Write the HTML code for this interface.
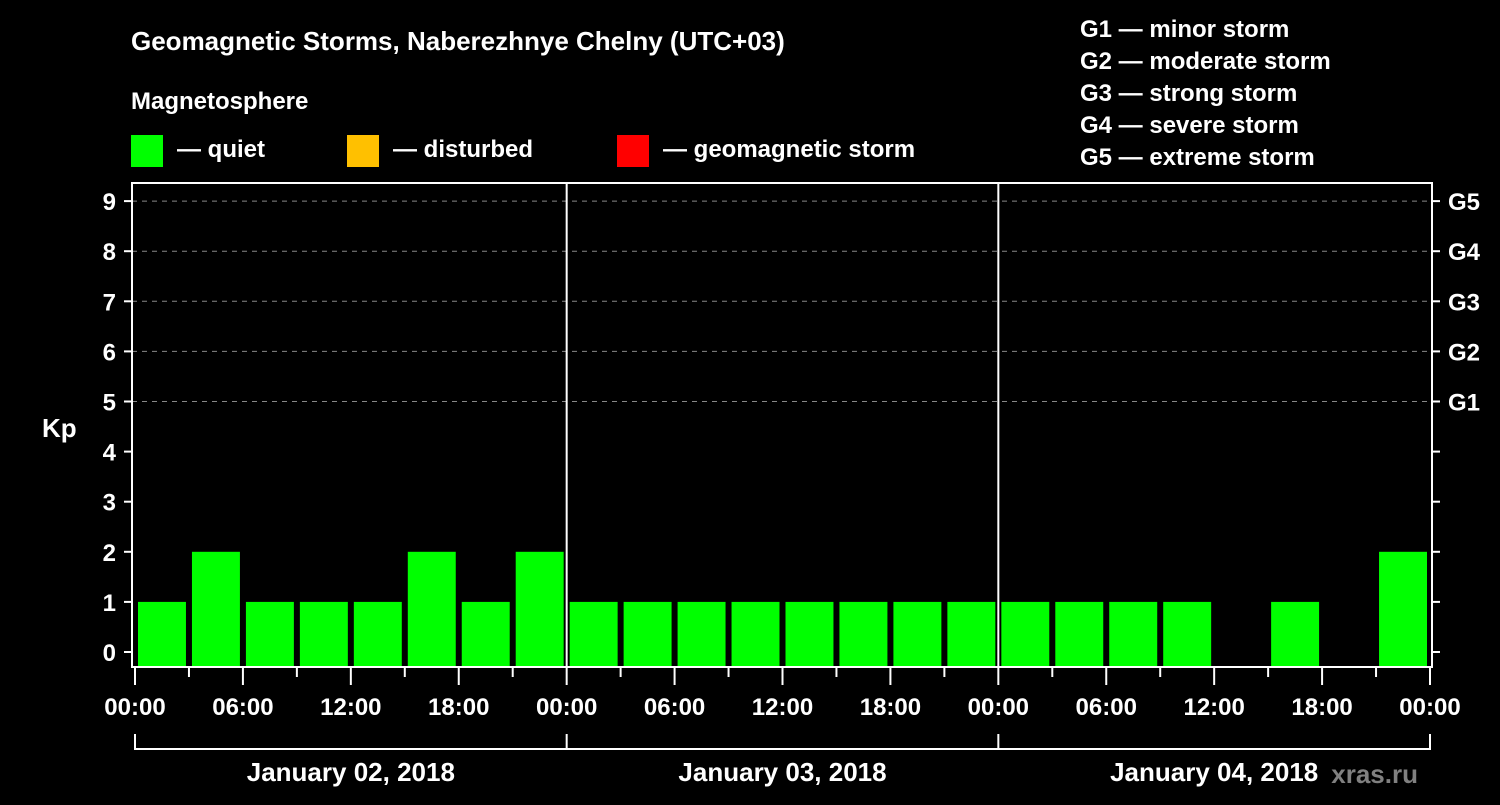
<!DOCTYPE html>
<html><head><meta charset="utf-8"><style>
body{margin:0;background:#000;width:1500px;height:800px;overflow:hidden;font-family:"Liberation Sans",sans-serif}
svg text{font-family:"Liberation Sans",sans-serif;font-weight:bold;fill:#fff}
</style></head><body>
<svg id="c" width="1500" height="800">
<text x="131" y="50" font-size="26">Geomagnetic Storms, Naberezhnye Chelny (UTC+03)</text>
<text x="131" y="109" font-size="24">Magnetosphere</text>
<g><rect x="131" y="135" width="32" height="32" fill="#00ff00"/><text x="177" y="157" font-size="24">— quiet</text></g>
<g><rect x="347" y="135" width="32" height="32" fill="#ffc000"/><text x="393" y="157" font-size="24">— disturbed</text></g>
<g><rect x="617" y="135" width="32" height="32" fill="#ff0000"/><text x="663" y="157" font-size="24">— geomagnetic storm</text></g>
<g font-size="24">
<text x="1080" y="37">G1 — minor storm</text><text x="1080" y="69">G2 — moderate storm</text><text x="1080" y="101">G3 — strong storm</text><text x="1080" y="133">G4 — severe storm</text><text x="1080" y="165">G5 — extreme storm</text></g>
<text x="42" y="437" font-size="26">Kp</text>
<text x="1418" y="783" font-size="26" text-anchor="end" style="fill:#808080">xras.ru</text>
<g id="g"></g>
</svg>
<script>
const values=[1,2,1,1,1,2,1,2, 1,1,1,1,1,1,1,1, 1,1,1,1,null,1,null,2];
const yTicks=[0,1,2,3,4,5,6,7,8,9];
const gLabels=["G1","G2","G3","G4","G5"];
const gLevels=[5,6,7,8,9];
const xLabels=["00:00","06:00","12:00","18:00","00:00","06:00","12:00","18:00","00:00","06:00","12:00","18:00","00:00"];
const days=["January 02, 2018","January 03, 2018","January 04, 2018"];
const NS="http://www.w3.org/2000/svg",g=document.getElementById('g');
const X0=135,X1=1430,slot=(X1-X0)/values.length;
const y=v=>652-v*50.1;
const x=i=>X0+i*slot;
function el(t,a){const e=document.createElementNS(NS,t);for(const k in a)e.setAttribute(k,a[k]);g.appendChild(e);return e;}
// gridlines
gLevels.forEach(v=>{const e=el('line',{x1:132,x2:1432,y1:y(v),y2:y(v),stroke:'#888','stroke-dasharray':'5,5','stroke-width':1});

});
// bars
values.forEach((v,i)=>{if(v==null)return;const e=el('rect',{x:x(i)+3,y:y(v),width:slot-6,height:667-y(v),fill:'#00ff00'});

});
// frame
const f=el('rect',{x:132,y:183,width:1300,height:484,fill:'none',stroke:'#fff','stroke-width':2});


for(let d=1;d<days.length;d++){const e=el('line',{x1:x(d*8),x2:x(d*8),y1:183,y2:667,stroke:'#fff','stroke-width':2});

}
// y ticks
yTicks.forEach(v=>{el('line',{x1:124,x2:132,y1:y(v),y2:y(v),stroke:'#fff','stroke-width':2});el('line',{x1:1432,x2:1440,y1:y(v),y2:y(v),stroke:'#fff','stroke-width':2});
const t=el('text',{x:116,y:y(v)+9,'font-size':24,'text-anchor':'end'});t.textContent=v;

});
gLabels.forEach((l,i)=>{const t=el('text',{x:1448,y:y(gLevels[i])+9,'font-size':24});t.textContent=l;

});
// x ticks
for(let i=0;i<=values.length;i++){const maj=i%2==0;el('line',{x1:x(i),x2:x(i),y1:667,y2:maj?685:677,stroke:'#fff','stroke-width':2});}
xLabels.forEach((l,i)=>{const t=el('text',{x:x(i*2),y:715,'font-size':24,'text-anchor':'middle'});t.textContent=l;

});
// date bracket
el('line',{x1:X0,x2:X1,y1:749,y2:749,stroke:'#fff','stroke-width':2});
for(let d=0;d<=days.length;d++)el('line',{x1:x(d*8),x2:x(d*8),y1:734,y2:750,stroke:'#fff','stroke-width':2});
days.forEach((l,d)=>{const t=el('text',{x:x(d*8+4),y:781,'font-size':26,'text-anchor':'middle'});t.textContent=l;

});
</script>
</body></html>
